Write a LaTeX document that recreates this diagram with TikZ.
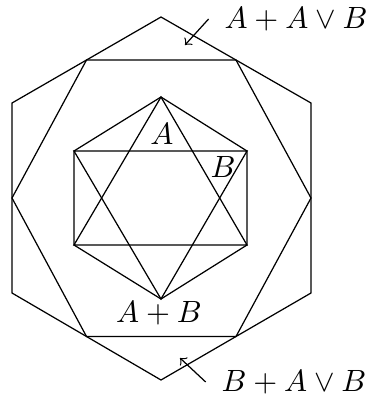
\documentclass[tikz,border=0pt]{standalone}
\usepackage{amsmath, amssymb}
\usepackage{tikz}
\usetikzlibrary{calc}

\begin{document}
\begin{tikzpicture}[
    x=0.325pt, y=-0.325pt,
    edge/.style={draw=black, line width=0.4pt},
    lbl/.style={font=\normalsize, inner sep=1pt},
    tag/.style={font=\normalsize, inner sep=5pt},
    pointer/.style={->, black, line width=0.4pt}
]
\useasboundingbox (0,0) rectangle (367,398);
% outer hexagon
\coordinate (o1) at (161,17);
\coordinate (o2) at (311,103);
\coordinate (o3) at (311,293);
\coordinate (o4) at (161,380);
\coordinate (o5) at (12,293);
\coordinate (o6) at (12,103);
\draw[edge] (o1) -- (o2) -- (o3) -- (o4) -- (o5) -- (o6) -- cycle;
% hexagon on the midpoints
\coordinate (m1) at ($(o6)!0.5!(o1)$);
\coordinate (m2) at ($(o1)!0.5!(o2)$);
\coordinate (m3) at ($(o2)!0.5!(o3)$);
\coordinate (m4) at ($(o3)!0.5!(o4)$);
\coordinate (m5) at ($(o4)!0.5!(o5)$);
\coordinate (m6) at ($(o5)!0.5!(o6)$);
\draw[edge] (m1) -- (m2) -- (m3) -- (m4) -- (m5) -- (m6) -- cycle;
% small hexagon with its two triangles
\coordinate (s1) at (161,97);
\coordinate (s2) at (247,151);
\coordinate (s3) at (247,245);
\coordinate (s4) at (161,299);
\coordinate (s5) at (74,245);
\coordinate (s6) at (74,151);
\draw[edge] (s1) -- (s2) -- (s3) -- (s4) -- (s5) -- (s6) -- cycle;
\draw[edge] (s1) -- (s3) -- (s5) -- cycle;
\draw[edge] (s2) -- (s4) -- (s6) -- cycle;
\node[lbl] (labA) at (162,134) {$A$};
\node[lbl] (labB) at (223,167) {$B$};
\node[lbl] (labAB) at (159,313) {$A+B$};
% outer labels
\node[tag] (tagTop) at (296,19) {$A+A\vee B$};
\node[tag] (tagBot) at (294,382) {$B+A\vee B$};
\coordinate (tipTop) at (185,45);
\coordinate (tipBot) at (180,358);
\draw[pointer] (tagTop.west) -- (tipTop);
\draw[pointer] (tagBot.west) -- (tipBot);
\end{tikzpicture}
\end{document}
